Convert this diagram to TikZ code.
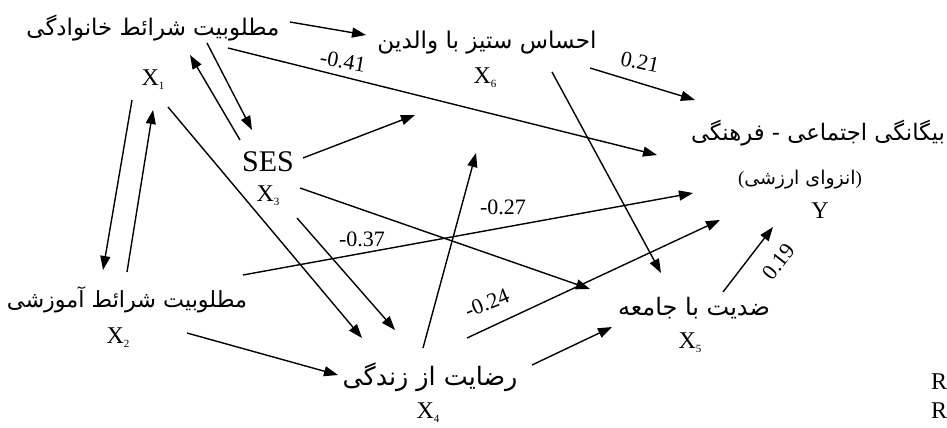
\documentclass[tikz,border=0pt]{standalone}
\usepackage{fontspec}
\setmainfont{Liberation Serif}
\newfontfamily\arabicfont[Script=Arabic]{DejaVu Sans}
\TeXXeTstate=1
\usetikzlibrary{arrows.meta}
\newcommand{\pers}[1]{{\arabicfont\beginR #1\endR}}
\newcommand{\xsub}[1]{X\raisebox{-4pt}{\fontsize{11}{11}\selectfont #1}}
\begin{document}
\begin{tikzpicture}[x=1pt,y=-1pt,
  ttl/.style={inner sep=0pt},
  xl/.style={inner sep=0pt,font=\fontsize{24}{26}\selectfont},
  num/.style={inner sep=0pt,font=\fontsize{22}{24}\selectfont},
  arr/.style={line width=1.4pt,-{Triangle[length=14pt,width=10pt]}}]
\fill[white] (0,0) rectangle (947,428);
\useasboundingbox (0,0) rectangle (947,428);
% titles
\node[ttl] (t1) at (153,28) {\resizebox{253pt}{!}{\pers{مطلوبیت شرائط خانوادگی}}};
\node[xl] (x1) at (153,80) {\xsub{1}};
\node[ttl] (t6) at (487,43) {\resizebox{219pt}{!}{\pers{احساس ستیز با والدین}}};
\node[xl] (x6) at (485,78) {\xsub{6}};
\node[inner sep=0pt,font=\fontsize{30}{32}\selectfont] (ses) at (268,162) {SES};
\node[xl] (x3) at (268,196) {\xsub{3}};
\node[ttl] (t2) at (127,300) {\resizebox{240pt}{!}{\pers{مطلوبیت شرائط آموزشی}}};
\node[xl] (x2) at (118,338) {\xsub{2}};
\node[ttl] (t4) at (430,377) {\resizebox{175pt}{!}{\pers{رضایت از زندگی}}};
\node[xl] (x4) at (428,413) {\xsub{4}};
\node[ttl] (t5) at (694,308) {\resizebox{152pt}{!}{\pers{ضدیت با جامعه}}};
\node[xl] (x5) at (690,343) {\xsub{5}};
\node[ttl] (ty) at (818,133) {\resizebox{254pt}{!}{\pers{بیگانگی اجتماعی - فرهنگی}}};
\node[ttl] (typ) at (800,180) {\resizebox{124pt}{!}{(\pers{انزوای ارزشی})}};
\node[xl] (y) at (820,211) {Y};
\node[xl,anchor=west] (r1) at (931,382) {R};
\node[xl,anchor=west] (r2) at (931,411) {R};
% connector end points
\coordinate (a1) at (290,22);  \coordinate (b1) at (366,35);
\coordinate (a2) at (228,48);  \coordinate (b2) at (657,155);
\coordinate (a3) at (207,43);  \coordinate (b3) at (252,130);
\coordinate (a4) at (240,140); \coordinate (b4) at (190,55);
\coordinate (a5) at (132,100); \coordinate (b5) at (103,270);
\coordinate (a6) at (127,272); \coordinate (b6) at (153,110);
\coordinate (a7) at (168,107); \coordinate (b7) at (362,338);
\coordinate (a8) at (303,158); \coordinate (b8) at (415,115);
\coordinate (a9) at (297,218); \coordinate (b9) at (395,330);
\coordinate (a10) at (300,188); \coordinate (b10) at (590,289);
\coordinate (a11) at (243,275); \coordinate (b11) at (693,193);
\coordinate (a12) at (423,348); \coordinate (b12) at (476,153);
\coordinate (a13) at (552,72);  \coordinate (b13) at (661,273);
\coordinate (a14) at (590,68);  \coordinate (b14) at (695,100);
\coordinate (a15) at (467,338); \coordinate (b15) at (720,220);
\coordinate (a16) at (532,365); \coordinate (b16) at (612,327);
\coordinate (a17) at (187,333); \coordinate (b17) at (338,375);
\coordinate (a18) at (723,292); \coordinate (b18) at (773,227);
% connectors
\draw[arr] (a1) -- (b1);
\draw[arr] (a2) -- (b2);
\draw[arr] (a3) -- (b3);
\draw[arr] (a4) -- (b4);
\draw[arr] (a5) -- (b5);
\draw[arr] (a6) -- (b6);
\draw[arr] (a7) -- (b7);
\draw[arr] (a8) -- (b8);
\draw[arr] (a9) -- (b9);
\draw[arr] (a10) -- (b10);
\draw[arr] (a11) -- (b11);
\draw[arr] (a12) -- (b12);
\draw[arr] (a13) -- (b13);
\draw[arr] (a14) -- (b14);
\draw[arr] (a15) -- (b15);
\draw[arr] (a16) -- (b16);
\draw[arr] (a17) -- (b17);
\draw[arr] (a18) -- (b18);
% coefficients
\node[num,rotate=-10] (l41) at (343,61) {-0.41};
\node[num,rotate=-12] (l21) at (640,62) {0.21};
\node[num] (l37) at (362,239) {-0.37};
\node[num] (l27) at (503,207) {-0.27};
\node[num,rotate=22] (l24) at (487,303) {-0.24};
\node[num,rotate=52] (l19) at (779,262) {0.19};
\end{tikzpicture}
\end{document}
